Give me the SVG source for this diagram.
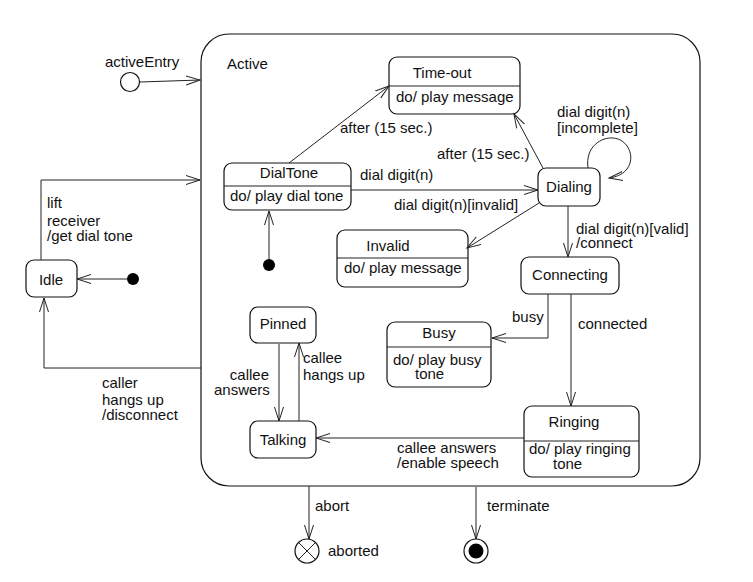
<svg xmlns="http://www.w3.org/2000/svg" width="753" height="582" viewBox="0 0 753 582">
<defs>
<marker id="arr" markerUnits="userSpaceOnUse" markerWidth="16" markerHeight="12" refX="14" refY="5" orient="auto">
<path d="M0,0.5 L14,5 L0,9.5" fill="none" stroke="#222" stroke-width="1"/>
</marker>
</defs>
<style>
text{font-family:"Liberation Sans",Arial,sans-serif;font-size:15px;fill:#111}
.st{fill:#fff;stroke:#111;stroke-width:1.2}
.ln{fill:none;stroke:#222;stroke-width:1}
.c{text-anchor:middle}
.e{fill:none;stroke:#222;stroke-width:1;marker-end:url(#arr)}
</style>
<rect width="753" height="582" fill="#fff"/>

<g id="Active">
<rect x="201" y="34" width="499" height="452" rx="28" class="st"/>
<text x="227" y="69">Active</text>
</g>

<g id="activeEntry">
<circle cx="130" cy="82" r="9.5" class="st"/>
<text x="105" y="67">activeEntry</text>
</g>

<g id="Idle">
<rect x="26" y="260" width="51" height="37" rx="8" class="st"/>
<text x="51" y="285" class="c">Idle</text>
</g>
<g id="IdleInit"><circle cx="133" cy="279" r="6" fill="#000"/></g>

<g id="DialTone">
<rect x="224" y="163" width="127" height="47" rx="8" class="st"/>
<line x1="224" y1="186" x2="351" y2="186" class="ln"/>
<text x="289" y="178" class="c">DialTone</text>
<text x="230" y="201">do/ play dial tone</text>
</g>
<g id="DialToneInit"><circle cx="269" cy="265" r="6" fill="#000"/></g>

<g id="Timeout">
<rect x="389" y="57" width="131" height="57" rx="8" class="st"/>
<line x1="389" y1="86" x2="520" y2="86" class="ln"/>
<text x="442" y="78" class="c">Time-out</text>
<text x="396" y="102">do/ play message</text>
</g>

<g id="Dialing">
<rect x="538" y="168" width="62" height="38" rx="8" class="st"/>
<text x="569" y="192" class="c">Dialing</text>
</g>

<g id="Invalid">
<rect x="337" y="230" width="131" height="57" rx="8" class="st"/>
<line x1="337" y1="258" x2="468" y2="258" class="ln"/>
<text x="388" y="251" class="c">Invalid</text>
<text x="344" y="273">do/ play message</text>
</g>

<g id="Connecting">
<rect x="521" y="257" width="98" height="37" rx="8" class="st"/>
<text x="570" y="280" class="c">Connecting</text>
</g>

<g id="Busy">
<rect x="387" y="322" width="104" height="65" rx="8" class="st"/>
<line x1="387" y1="347" x2="491" y2="347" class="ln"/>
<text x="439" y="338" class="c">Busy</text>
<text x="393" y="365">do/ play busy</text>
<text x="415" y="379">tone</text>
</g>

<g id="Ringing">
<rect x="524" y="406" width="115" height="71" rx="8" class="st"/>
<line x1="524" y1="441" x2="639" y2="441" class="ln"/>
<text x="574" y="427" class="c">Ringing</text>
<text x="529" y="454">do/ play ringing</text>
<text x="553" y="469">tone</text>
</g>

<g id="Pinned">
<rect x="250" y="307" width="66" height="36" rx="8" class="st"/>
<text x="283" y="329" class="c">Pinned</text>
</g>

<g id="Talking">
<rect x="250" y="421" width="66" height="37" rx="8" class="st"/>
<text x="283" y="445" class="c">Talking</text>
</g>

<g id="aborted">
<circle cx="307" cy="551" r="12" class="st"/>
<line x1="298.5" y1="542.5" x2="315.5" y2="559.5" class="ln"/>
<line x1="315.5" y1="542.5" x2="298.5" y2="559.5" class="ln"/>
<text x="328" y="556">aborted</text>
</g>

<g id="final">
<circle cx="476" cy="551" r="12" class="st"/>
<circle cx="476" cy="551" r="7.5" fill="#000"/>
</g>

<g id="connectors">
<line x1="140" y1="82" x2="200" y2="80" class="e"/>
<polyline points="41,260 41,180 200,180" class="e"/>
<text x="47" y="208">lift</text>
<text x="47" y="226">receiver</text>
<text x="47" y="241">/get dial tone</text>

<line x1="127" y1="279" x2="77" y2="279" class="e"/>

<polyline points="201,368 44,368 44,298" class="e"/>
<text x="102" y="388">caller</text>
<text x="102" y="405">hangs up</text>
<text x="102" y="420">/disconnect</text>

<line x1="269" y1="259" x2="269" y2="211" class="e"/>

<line x1="289" y1="163" x2="389" y2="86" class="e"/>
<text x="340" y="133">after (15 sec.)</text>

<line x1="351" y1="190" x2="538" y2="190" class="e"/>
<text x="360" y="180">dial digit(n)</text>

<line x1="543" y1="168" x2="514" y2="114" class="e"/>
<text x="437" y="159">after (15 sec.)</text>

<path d="M588,168 C585,146 602,137 613,138 C628,139 636,157 627,169 C622,175 616,177 609,178" class="e"/>
<text x="557" y="117">dial digit(n)</text>
<text x="557" y="133">[incomplete]</text>

<line x1="539" y1="203" x2="467" y2="248" class="e"/>
<text x="394" y="210">dial digit(n)[invalid]</text>

<line x1="568" y1="206" x2="568" y2="257" class="e"/>
<text x="576" y="234">dial digit(n)[valid]</text>
<text x="576" y="248">/connect</text>

<polyline points="548,294 548,338 492,338" class="e"/>
<text x="512" y="322">busy</text>

<line x1="571" y1="294" x2="571" y2="406" class="e"/>
<text x="578" y="329">connected</text>

<line x1="524" y1="438" x2="316" y2="438" class="e"/>
<text x="397" y="453">callee answers</text>
<text x="397" y="468">/enable speech</text>

<line x1="279" y1="344" x2="279" y2="421" class="e"/>
<text x="269" y="380" text-anchor="end">callee</text>
<text x="214" y="395">answers</text>

<line x1="299" y1="421" x2="299" y2="343" class="e"/>
<text x="303" y="363">callee</text>
<text x="303" y="380">hangs up</text>

<line x1="309" y1="486" x2="309" y2="539" class="e"/>
<text x="315" y="511">abort</text>

<line x1="476" y1="487" x2="476" y2="539" class="e"/>
<text x="487" y="511">terminate</text>
</g>
</svg>
